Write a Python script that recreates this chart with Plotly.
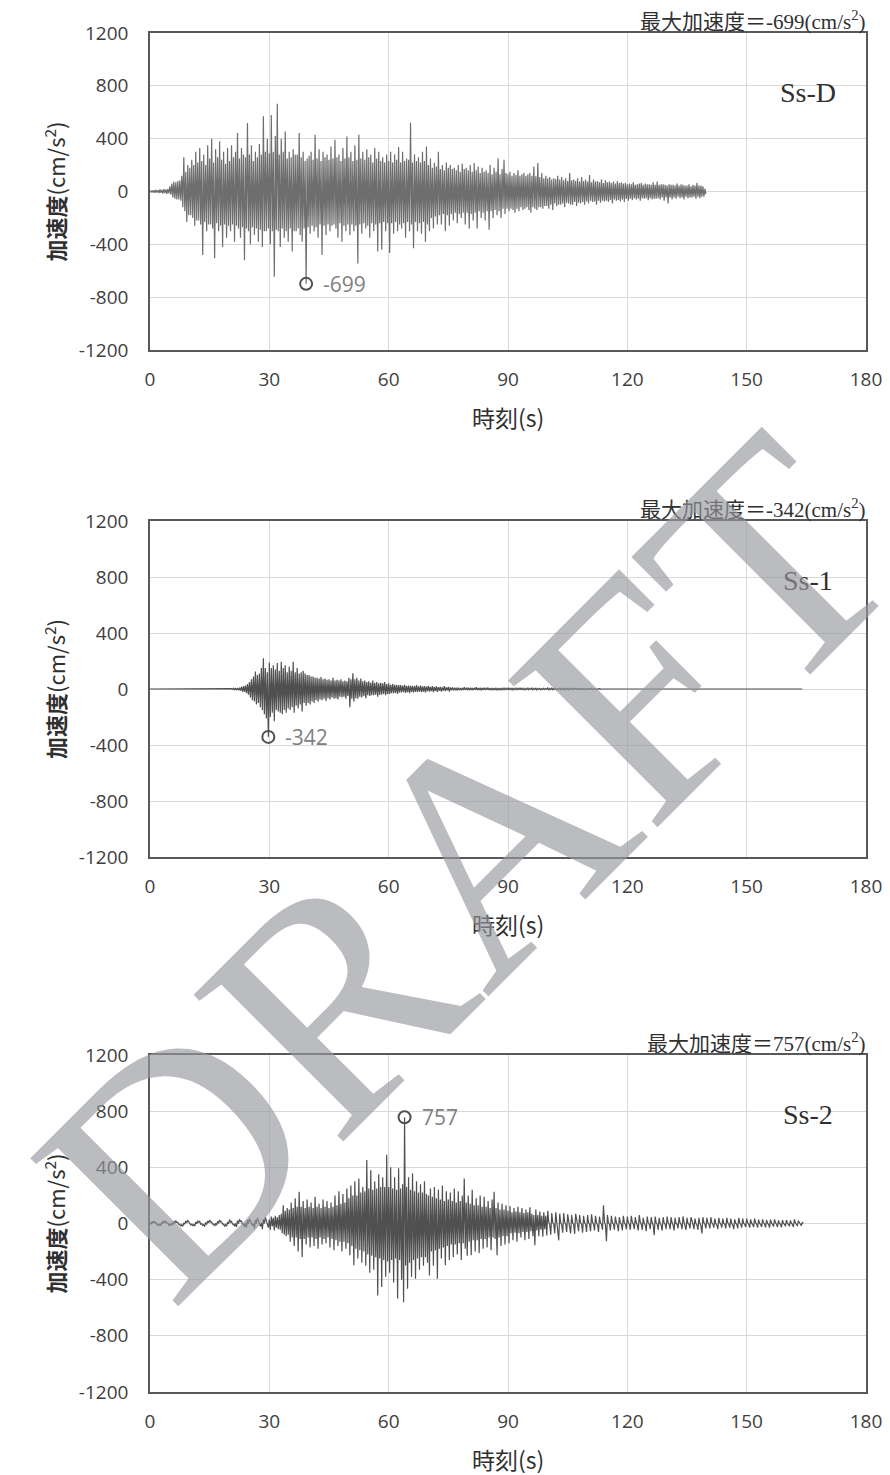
import numpy as np
import plotly.graph_objects as go

W, H = 890, 1475
DT = 0.5  # width of one time bin (s); each bin keeps its max and min acceleration

# ---- Ss-D (cm/s2), bins from t = 0 s ----
ssd_max = [
    5, 8, 10, 12, 10, 15, 12, 18, 15, 20, 40, 60, 75, 70, 80, 85, 120, 260, 150, 200,
    180, 240, 200, 300, 220, 330, 230, 280, 200, 350, 250, 400, 220, 320, 260, 380, 240, 300, 210, 330,
    230, 350, 260, 300, 443, 250, 330, 280, 260, 518, 280, 350, 230, 300, 260, 360, 280, 570, 300, 400,
    290, 580, 300, 420, 665, 280, 400, 300, 455, 250, 300, 260, 320, 280, 280, 443, 260, 300, 230, 250,
    270, 300, 240, 430, 250, 320, 230, 300, 260, 280, 240, 340, 250, 392, 260, 280, 230, 330, 250, 417,
    260, 300, 230, 350, 240, 430, 250, 300, 240, 320, 260, 280, 220, 330, 250, 300, 230, 260, 220, 280,
    230, 300, 220, 280, 240, 337, 220, 300, 230, 250, 240, 520, 220, 280, 230, 260, 220, 300, 230, 340,
    200, 250, 180, 220, 190, 300, 170, 200, 160, 220, 180, 200, 170, 180, 160, 200, 150, 210, 170, 180,
    160, 200, 150, 215, 160, 190, 140, 180, 150, 160, 140, 200, 130, 180, 150, 250, 130, 170, 240, 140,
    130, 150, 120, 140, 125, 160, 120, 130, 140, 120, 130, 140, 120, 190, 115, 215, 110, 140, 100, 120,
    100, 110, 90, 100, 95, 120, 90, 110, 85, 100, 80, 140, 85, 90, 80, 100, 75, 110, 80, 90,
    75, 125, 70, 90, 75, 80, 70, 90, 65, 85, 70, 75, 65, 75, 60, 80, 65, 70, 60, 65,
    55, 60, 55, 70, 50, 55, 60, 65, 50, 60, 55, 55, 50, 70, 50, 75, 50, 55, 55, 50,
    45, 55, 50, 50, 45, 60, 45, 55, 50, 45, 45, 55, 40, 50, 45, 65, 45, 45, 40, 20,
]
ssd_min = [
    -5, -8, -10, -8, -12, -10, -15, -12, -18, -15, -25, -45, -55, -60, -60, -70, -120, -150, -230, -180,
    -180, -200, -260, -220, -220, -250, -480, -230, -300, -250, -250, -280, -505, -240, -300, -260, -420, -250, -350, -260,
    -300, -250, -380, -260, -280, -350, -270, -520, -280, -300, -400, -270, -330, -280, -380, -290, -420, -300, -300, -280,
    -400, -300, -645, -290, -300, -420, -280, -350, -300, -380, -280, -455, -300, -300, -280, -330, -380, -280, -699, -270,
    -320, -260, -300, -270, -350, -250, -480, -260, -330, -250, -300, -260, -250, -280, -350, -240, -380, -260, -300, -250,
    -330, -250, -300, -260, -545, -250, -320, -240, -280, -260, -350, -240, -300, -250, -455, -240, -440, -230, -300, -240,
    -466, -240, -320, -230, -300, -250, -280, -240, -350, -230, -300, -250, -430, -230, -300, -240, -320, -230, -380, -250,
    -300, -200, -280, -190, -250, -180, -250, -170, -300, -180, -260, -170, -220, -160, -240, -170, -200, -160, -250, -160,
    -280, -170, -220, -160, -280, -150, -200, -160, -220, -150, -290, -150, -200, -140, -180, -150, -200, -130, -170, -130,
    -150, -130, -140, -160, -130, -150, -120, -140, -130, -120, -140, -160, -120, -130, -140, -120, -120, -130, -110, -110,
    -130, -100, -140, -90, -110, -100, -100, -90, -120, -85, -90, -100, -100, -80, -110, -85, -90, -80, -100, -75,
    -90, -70, -80, -75, -100, -70, -85, -70, -75, -70, -80, -65, -90, -60, -70, -65, -75, -60, -80, -55,
    -70, -55, -65, -50, -60, -55, -70, -50, -55, -50, -65, -50, -60, -55, -55, -50, -60, -45, -70, -45,
    -90, -45, -60, -45, -55, -40, -50, -45, -60, -40, -50, -45, -45, -40, -55, -40, -50, -40, -40, -20,
]

# ---- Ss-1 (cm/s2): zero until 20 s, bins from 20 s, then zero until 164 s ----
ss1_start = 20.0
ss1_end = 164.0
ss1_max = [
    0, 3, 5, 6, 8, 10, 15, 20, 25, 35, 50, 70, 90, 124, 100, 110, 150, 219, 150, 120,
    190, 150, 170, 140, 185, 130, 195, 150, 170, 120, 160, 130, 195, 120, 150, 110, 120, 130, 110, 100,
    100, 90, 90, 80, 80, 75, 85, 70, 75, 65, 70, 60, 80, 60, 65, 60, 70, 55, 60, 55,
    80, 70, 112, 70, 80, 60, 75, 55, 60, 50, 55, 45, 60, 45, 50, 40, 45, 40, 50, 35,
    40, 30, 35, 30, 30, 28, 28, 25, 30, 22, 25, 22, 22, 20, 28, 18, 25, 18, 20, 18,
    22, 15, 20, 15, 18, 14, 15, 12, 20, 12, 15, 12, 12, 10, 10, 10, 8, 8, 12, 8,
    10, 8, 8, 8, 12, 7, 9, 7, 8, 6, 10, 6, 7, 6, 8, 6, 6, 5, 9, 5,
    8, 5, 7, 5, 6, 5, 8, 5, 5, 4, 6, 4, 7, 4, 5, 4, 4, 3, 6, 3,
    10, 4, 6, 4, 4, 3, 5, 3, 6, 3, 4, 3, 6, 3, 5, 2, 4, 2, 3, 2,
    4, 2, 5, 2, 3, 1, 2, 0,
]
ss1_min = [
    0, -3, -5, -8, -10, -12, -18, -20, -30, -40, -60, -80, -90, -110, -100, -130, -150, -180, -210, -342,
    -200, -170, -230, -150, -160, -170, -180, -150, -170, -140, -150, -130, -170, -120, -140, -110, -160, -100, -120, -100,
    -110, -90, -100, -80, -90, -75, -80, -70, -85, -65, -75, -60, -70, -65, -75, -55, -60, -55, -70, -50,
    -130, -70, -90, -65, -70, -55, -60, -50, -65, -45, -50, -45, -45, -40, -55, -40, -40, -35, -45, -35,
    -35, -30, -30, -28, -35, -25, -25, -22, -28, -22, -30, -20, -25, -20, -20, -18, -22, -18, -25, -15,
    -18, -15, -22, -14, -20, -12, -18, -12, -15, -10, -18, -10, -10, -10, -12, -8, -10, -8, -8, -7,
    -9, -7, -10, -6, -8, -7, -10, -6, -7, -5, -8, -6, -9, -5, -10, -5, -8, -5, -7, -4,
    -6, -5, -8, -4, -7, -4, -6, -4, -7, -4, -5, -3, -6, -3, -6, -3, -5, -3, -4, -3,
    -8, -4, -5, -3, -6, -3, -4, -3, -5, -3, -5, -2, -4, -2, -3, -2, -5, -2, -4, -2,
    -3, -2, -4, -2, -2, -1, -1, 0,
]

# ---- Ss-2 (cm/s2), bins from t = 0 s ----
ss2_max = [
    5, 15, 18, 8, -5, -2, 12, 20, 15, 2, -5, 5, 15, 18, 8, -5, -8, 5, 18, 22,
    8, -5, -5, 10, 20, 15, -2, -8, 8, 18, 25, 10, -5, 2, 15, 25, 12, -5, -8, 10,
    28, 15, -5, 0, 20, 30, 18, -5, 5, 25, 35, 10, 0, 25, 40, 15, 5, 30, 45, 10,
    30, 50, 40, 55, 45, 60, 70, 130, 90, 110, 100, 150, 110, 180, 120, 226, 120, 160, 110, 170,
    120, 150, 110, 190, 120, 140, 110, 170, 120, 160, 110, 150, 120, 200, 130, 230, 140, 210, 150, 250,
    180, 270, 200, 300, 200, 320, 220, 260, 230, 452, 250, 380, 240, 300, 250, 350, 260, 330, 260, 490,
    260, 400, 250, 330, 240, 393, 250, 280, 757, 260, 330, 240, 357, 230, 300, 220, 280, 220, 300, 210,
    200, 250, 190, 260, 180, 240, 170, 270, 160, 230, 170, 220, 160, 250, 150, 230, 160, 200, 321, 150,
    200, 140, 240, 130, 180, 130, 200, 120, 190, 120, 160, 110, 170, 226, 110, 150, 100, 140, 100, 130,
    90, 125, 80, 110, 85, 120, 80, 110, 75, 100, 80, 115, 70, 60, 100, 60, 85, 55, 80, 55,
    90, -10, 75, -5, 80, -20, 70, -10, 75, -5, 65, -10, 60, -5, 70, -10, 60, -5, 55, -5,
    60, -5, 65, -5, 55, -10, 50, -5, 130, -10, 60, -5, 55, -5, 50, -10, 45, -5, 55, -5,
    50, -5, 55, -5, 45, -10, 60, -5, 40, -10, 50, -5, 45, -10, 50, -5, 40, -10, 45, -5,
    50, -5, 45, -10, 40, -5, 45, -5, 50, -10, 40, -5, 45, -5, 35, -10, 40, -15, 45, -5,
    40, -5, 45, -5, 35, -10, 40, -5, 35, -5, 40, -5, 35, -10, 30, -5, 40, -5, 35, -5,
    35, -5, 30, -5, 35, -5, 28, -5, 30, -5, 25, -5, 28, -5, 30, -5, 22, -5, 25, -5,
    25, -5, 22, -5, 30, -5, 20, -5, 10,
]
ss2_min = [
    -5, 2, 5, -10, -15, -15, 0, 10, 2, -15, -15, -8, 5, 8, -8, -20, -20, -5, 8, 10,
    -10, -18, -18, -2, 8, -5, -15, -22, -8, 5, 10, -5, -18, -12, 2, 12, -5, -18, -20, -3,
    10, -5, -20, -25, 0, 15, -5, -25, -30, 0, 15, -15, -35, 0, 20, -20, -40, 0, 20, -30,
    -45, -20, -50, -30, -40, -45, -70, -80, -90, -80, -130, -100, -160, -100, -200, -110, -238, -110, -150, -100,
    -170, -100, -160, -110, -180, -100, -150, -110, -140, -100, -170, -110, -190, -120, -160, -130, -200, -130, -180, -140,
    -226, -160, -298, -180, -250, -190, -280, -200, -300, -220, -350, -230, -330, -240, -512, -250, -452, -260, -380, -270,
    -350, -260, -420, -250, -535, -260, -400, -560, -300, -464, -280, -380, -260, -393, -250, -330, -240, -300, -240, -280,
    -370, -200, -300, -190, -393, -180, -250, -170, -298, -160, -260, -150, -240, -150, -220, -140, -260, -140, -180, -230,
    -130, -226, -120, -200, -120, -210, -110, -180, -110, -170, -100, -190, -100, -110, -226, -100, -160, -90, -150, -90,
    -140, -70, -120, -65, -130, -70, -100, -60, -120, -60, -110, -55, -90, -155, -50, -90, -45, -95, -40, -85,
    10, -80, 5, -70, 10, -120, 5, -65, 10, -60, 5, -70, 5, -75, 10, -55, 5, -65, 5, -60,
    5, -55, 10, -50, 5, -60, 5, -45, 10, -126, 5, -50, 5, -45, 5, -55, 5, -50, 5, -40,
    5, -45, 10, -40, 5, -50, 10, -45, 0, -55, 5, -40, 5, -83, 5, -45, 0, -50, 5, -40,
    5, -40, 5, -50, 0, -35, 5, -40, 10, -45, 0, -35, 5, -40, 0, -45, 0, -71, 5, -35,
    5, -35, 5, -30, 0, -40, 5, -30, 0, -35, 5, -30, 0, -40, 0, -35, 5, -30, 0, -25,
    5, -30, 0, -25, 5, -30, 0, -25, 5, -28, 0, -30, 0, -22, 5, -25, 0, -28, 0, -20,
    0, -20, 0, -25, 5, -18, 0, -15, 0,
]

wave_names = ["Ss-D", "Ss-1", "Ss-2"]
x_ticks = [0, 30, 60, 90, 120, 150, 180]
y_ticks = [-1200, -800, -400, 0, 400, 800, 1200]


def bins_to_path(t0, hi, lo):
    """Each bin is drawn as a stroke from its max to its min."""
    xs, ys = [], []
    for k, (a, b) in enumerate(zip(hi, lo)):
        t = t0 + k * DT
        xs += [t, t + DT / 2]
        ys += [a, b]
    return np.array(xs, dtype=float), np.array(ys, dtype=float)


ssd_x, ssd_y = bins_to_path(0.0, ssd_max, ssd_min)
ss1_x, ss1_y = bins_to_path(ss1_start, ss1_max, ss1_min)
ss1_x = np.concatenate([[0.0], ss1_x, [ss1_end]])
ss1_y = np.concatenate([[0.0], ss1_y, [0.0]])
ss2_x, ss2_y = bins_to_path(0.0, ss2_max, ss2_min)

series = [
    (ssd_x, ssd_y, "#6e6e6e"),
    (ss1_x, ss1_y, "#505050"),
    (ss2_x, ss2_y, "#505050"),
]

# plot areas in pixels: (top, bottom)
left_px, right_px = 150, 866
panels_px = [(33, 350), (521, 857), (1055, 1392)]


def px_x(x):
    return x / W


def px_y(y):
    return 1 - y / H


SANS = "Open Sans, Noto Sans CJK JP, sans-serif"
CJK = "Noto Sans CJK JP, sans-serif"
SERIF_CJK = "Liberation Serif, Noto Sans CJK JP, serif"

fig = go.Figure()
annotations = []
layout_axes = {}

for i, ((t, acc, color), name, (top, bot)) in enumerate(zip(series, wave_names, panels_px)):
    n = i + 1
    xa = "x" if n == 1 else f"x{n}"
    ya = "y" if n == 1 else f"y{n}"
    xkey = "xaxis" if n == 1 else f"xaxis{n}"
    ykey = "yaxis" if n == 1 else f"yaxis{n}"

    fig.add_trace(go.Scatter(
        x=t, y=acc, mode="lines", xaxis=xa, yaxis=ya,
        line=dict(color=color, width=1.2), hoverinfo="skip", showlegend=False,
    ))

    k = int(np.argmax(np.abs(acc)))
    pk_t, pk_v = float(t[k]), int(acc[k])
    fig.add_trace(go.Scatter(
        x=[pk_t], y=[pk_v], mode="markers", xaxis=xa, yaxis=ya,
        marker=dict(symbol="circle-open", size=12, color="#505050", line=dict(width=2)),
        hoverinfo="skip", showlegend=False,
    ))
    annotations.append(dict(
        x=pk_t, y=pk_v, xref=xa, yref=ya, text=f"{pk_v}", showarrow=False,
        xanchor="left", yanchor="middle", xshift=15,
        font=dict(family=SANS, size=21, color="#808080"),
    ))

    common = dict(
        showgrid=True, gridcolor="#d9d9d9", gridwidth=1,
        showline=True, linecolor="#595959", linewidth=1.5, mirror=True,
        zeroline=False, ticks="", fixedrange=True, automargin=False,
        tickfont=dict(family=SANS, size=19, color="#404040"),
    )
    layout_axes[xkey] = dict(
        common, domain=[px_x(left_px), px_x(right_px)], range=[0, 180],
        tickvals=x_ticks, ticktext=[str(v) for v in x_ticks],
        anchor=ya, ticklabelstandoff=11,
    )
    layout_axes[ykey] = dict(
        common, domain=[px_y(bot), px_y(top)], range=[-1200, 1200],
        tickvals=y_ticks, ticktext=[str(v) for v in y_ticks],
        anchor=xa, ticklabelstandoff=16,
    )

    # header with the peak value
    annotations.append(dict(
        x=px_x(868), y=px_y(top - 13), xref="paper", yref="paper",
        text=f"最大加速度＝{pk_v}(cm/s<sup>2</sup>)", showarrow=False,
        xanchor="right", yanchor="middle",
        font=dict(family=SERIF_CJK, size=21, color="#303030"),
    ))
    # wave name inside the plot
    annotations.append(dict(
        x=px_x(808), y=px_y(top + 59), xref="paper", yref="paper",
        text=name, showarrow=False, xanchor="center", yanchor="middle",
        font=dict(family="Liberation Serif, serif", size=28, color="#303030"),
    ))
    # axis titles
    annotations.append(dict(
        x=px_x(54), y=px_y((top + bot) / 2), xref="paper", yref="paper",
        text="<b>加速度</b>(cm/s<sup>2</sup>)", showarrow=False, textangle=-90,
        xanchor="center", yanchor="middle",
        font=dict(family=CJK, size=22, color="#303030"),
    ))
    annotations.append(dict(
        x=px_x(508), y=px_y(bot + 67), xref="paper", yref="paper",
        text="時刻(s)", showarrow=False, xanchor="center", yanchor="middle",
        font=dict(family=CJK, size=23, color="#303030"),
    ))

# watermark
annotations.append(dict(
    x=px_x(466), y=px_y(866), xref="paper", yref="paper",
    text="DRAFT", showarrow=False, textangle=-45,
    xanchor="center", yanchor="middle",
    font=dict(family="Liberation Serif, serif", size=320, color="rgba(150,152,156,0.65)"),
))

fig.update_layout(
    width=W, height=H, autosize=False,
    margin=dict(l=0, r=0, t=0, b=0, pad=0, autoexpand=False),
    paper_bgcolor="white", plot_bgcolor="white",
    annotations=annotations,
    **layout_axes,
)

fig.write_html("out.html")
